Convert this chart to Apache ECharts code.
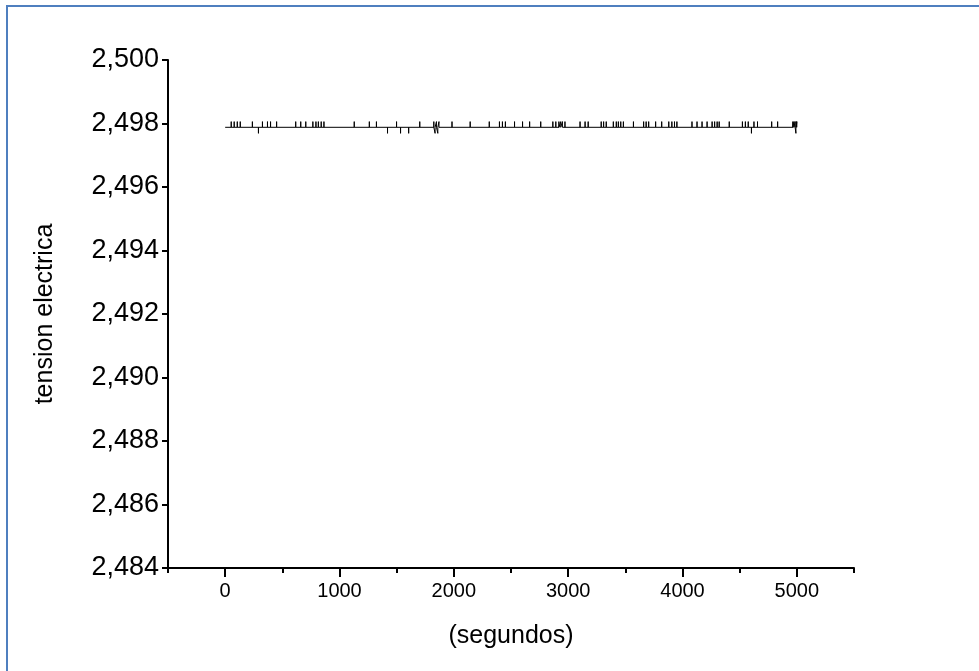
<!DOCTYPE html>
<html>
<head>
<meta charset="utf-8">
<script src="https://cdn.jsdelivr.net/npm/echarts@6/dist/echarts.min.js"></script>
<style>
html,body{margin:0;padding:0;background:#fff;}
#c{width:979px;height:671px;}
</style>
</head>
<body>
<div id="c"></div>
<script>
// Data
var baseValue = 2.49788;
var upValue = 2.49806;
var downValue = 2.49769;
var timeStart = 0;
var timeEnd = 5000;
var upTimes = [53, 79, 106, 132, 238, 326, 370, 397, 450, 617, 661, 705, 767, 794, 815, 840, 864,
  1129, 1261, 1323, 1499, 1702, 1825, 1848, 1870, 1984, 2143, 2310, 2399, 2425, 2451, 2531,
  2601, 2663, 2760, 2866, 2892, 2919, 2935, 2950, 2972, 3104, 3148, 3175, 3289, 3310, 3333,
  3395, 3421, 3439, 3460, 3483, 3571, 3660, 3682, 3704, 3765, 3818, 3880, 3907, 3930, 3951,
  4083, 4127, 4171, 4215, 4259, 4281, 4303, 4321, 4409, 4524, 4550, 4575, 4625, 4656, 4780,
  4832, 4965, 4975, 4985, 4995, 5000];
var downTimes = [291, 1420, 1534, 1605, 1836, 1860, 4603, 4992];
var yTicks = [2.484, 2.486, 2.488, 2.490, 2.492, 2.494, 2.496, 2.498, 2.500];
var xTicks = [0, 1000, 2000, 3000, 4000, 5000];

var events = [];
upTimes.forEach(function(t){ events.push([t, upValue]); });
downTimes.forEach(function(t){ events.push([t, downValue]); });
events.sort(function(a,b){ return a[0]-b[0]; });
var seriesData = [[timeStart, baseValue]];
events.forEach(function(e){
  seriesData.push([e[0], baseValue]);
  seriesData.push([e[0], e[1]]);
  seriesData.push([e[0], baseValue]);
});
seriesData.push([timeEnd, baseValue]);

var FONT = 'Liberation Sans, Arial, sans-serif';
var chart = echarts.init(document.getElementById('c'), null, {renderer:'canvas'});
chart.setOption({
  animation: false,
  backgroundColor: '#ffffff',
  graphic: [{
    type: 'rect',
    shape: {x: 7, y: 6, width: 1000, height: 700},
    style: {fill: 'none', stroke: '#4f7fbf', lineWidth: 2},
    silent: true
  }],
  grid: {left: 168, right: 125, top: 60, bottom: 103},
  xAxis: [{
    type: 'value',
    min: -500, max: 5500, interval: 500,
    name: '(segundos)',
    nameLocation: 'middle',
    nameGap: 56,
    nameTextStyle: {fontFamily: FONT, fontSize: 25, color: '#000'},
    axisLine: {show: true, onZero: false, lineStyle: {color: '#000', width: 2}},
    axisTick: {show: true, length: 5, lineStyle: {color: '#000', width: 2}},
    axisLabel: {show: false},
    splitLine: {show: false}
  }, {
    type: 'value',
    position: 'bottom',
    min: -500, max: 5500,
    axisLine: {show: false},
    axisTick: {show: true, length: 9, lineStyle: {color: '#000', width: 2}, customValues: xTicks},
    axisLabel: {show: true, fontFamily: FONT, fontSize: 20, color: '#000', margin: 13, customValues: xTicks,
      formatter: function(v){ return String(v); }},
    splitLine: {show: false}
  }],
  yAxis: {
    type: 'value',
    min: 2.484, max: 2.500, interval: 0.002,
    name: 'tension electrica',
    nameLocation: 'middle',
    nameRotate: 90,
    nameGap: 110,
    nameTextStyle: {fontFamily: FONT, fontSize: 25, color: '#000'},
    axisLine: {show: true, onZero: false, lineStyle: {color: '#000', width: 2}},
    axisTick: {show: true, length: 6, lineStyle: {color: '#000', width: 2}},
    axisLabel: {fontFamily: FONT, fontSize: 27, color: '#000', margin: 9,
      formatter: function(v){
        var r = Math.round(v*1000)/1000;
        return r.toFixed(3).replace('.', ',');
      }},
    splitLine: {show: false}
  },
  series: [{
    type: 'line',
    xAxisIndex: 0,
    data: seriesData,
    symbol: 'none',
    lineStyle: {color: '#000', width: 1},
    silent: true
  }]
});
</script>
</body>
</html>
